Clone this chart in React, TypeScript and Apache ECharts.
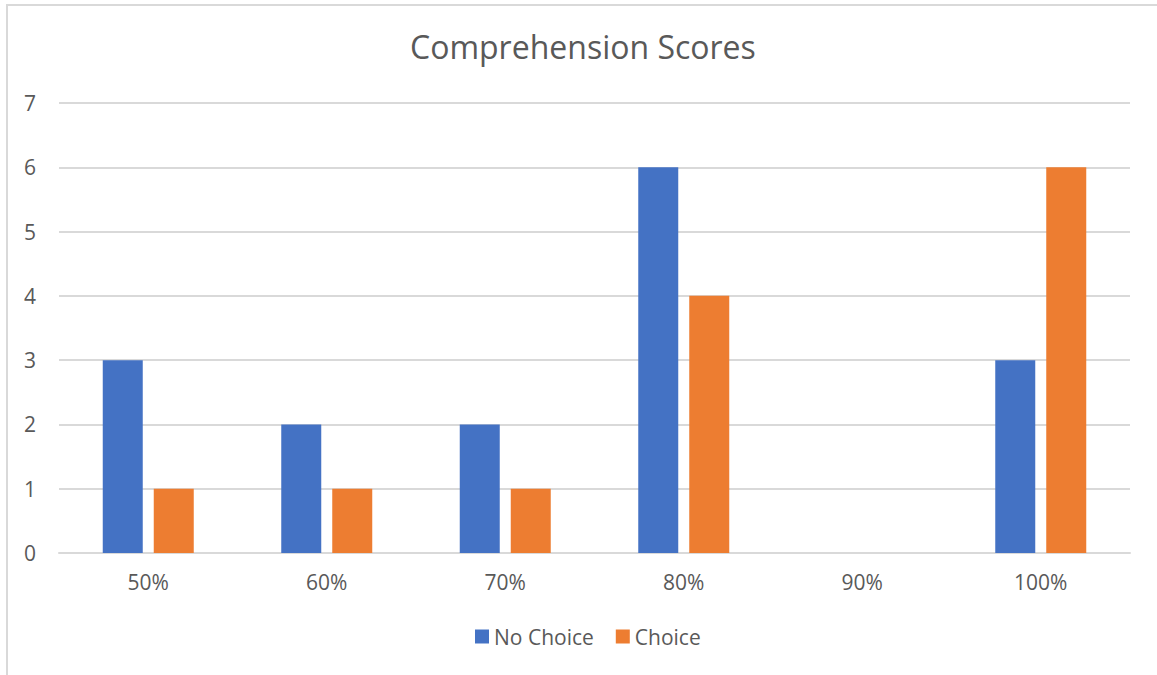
import React, { useEffect, useRef } from "react";
import * as echarts from "echarts";

const categories = ["50%", "60%", "70%", "80%", "90%", "100%"];
const noChoice = [3, 2, 2, 6, 0, 3];
const choice = [1, 1, 1, 4, 0, 6];
const yTicks = { min: 0, max: 7, interval: 1 };

const FONT = "'Open Sans', 'Noto Sans', sans-serif";
const TEXT = "#595959";
const GRID = "#d9d9d9";

export default function App() {
  const ref = useRef<HTMLDivElement>(null);

  useEffect(() => {
    document.body.style.margin = "0";
    const chart = echarts.init(ref.current!, null, { renderer: "svg" });
    chart.setOption({
      animation: false,
      backgroundColor: "#ffffff",
      textStyle: { fontFamily: FONT, color: TEXT },
      title: {
        text: "Comprehension Scores",
        left: 410,
        top: 30,
        padding: 0,
        textStyle: { fontFamily: FONT, fontSize: 32, fontWeight: "normal", color: TEXT },
      },
      graphic: [
        {
          type: "rect",
          shape: { x: 7, y: 5, width: 1200, height: 700 },
          style: { fill: "none", stroke: GRID, lineWidth: 2 },
          silent: true,
          z: -1,
        },
      ],
      legend: {
        bottom: 23,
        left: 470,
        itemWidth: 14,
        itemHeight: 14,
        itemGap: 22,
        icon: "rect",
        textStyle: { fontFamily: FONT, fontSize: 21, color: TEXT },
        data: ["No Choice", "Choice"],
      },
      grid: { left: 59, right: 27, top: 103, bottom: 122 },
      xAxis: {
        type: "category",
        data: categories,
        axisLine: { lineStyle: { color: GRID, width: 2 } },
        axisTick: { show: false },
        axisLabel: { fontFamily: FONT, fontSize: 21, color: TEXT, margin: 18 },
      },
      yAxis: {
        type: "value",
        min: yTicks.min,
        max: yTicks.max,
        interval: yTicks.interval,
        axisLine: { show: false },
        axisTick: { show: false },
        splitLine: { lineStyle: { color: GRID, width: 2 } },
        axisLabel: { fontFamily: FONT, fontSize: 21, color: TEXT, margin: 23 },
      },
      series: [
        {
          name: "No Choice",
          type: "bar",
          data: noChoice,
          barWidth: 40,
          barGap: "27.5%",
          itemStyle: { color: "#4472C4" },
        },
        {
          name: "Choice",
          type: "bar",
          data: choice,
          barWidth: 40,
          barGap: "27.5%",
          itemStyle: { color: "#ED7D31" },
        },
      ],
    });
    return () => chart.dispose();
  }, []);

  return <div ref={ref} style={{ width: 1157, height: 675 }} />;
}
